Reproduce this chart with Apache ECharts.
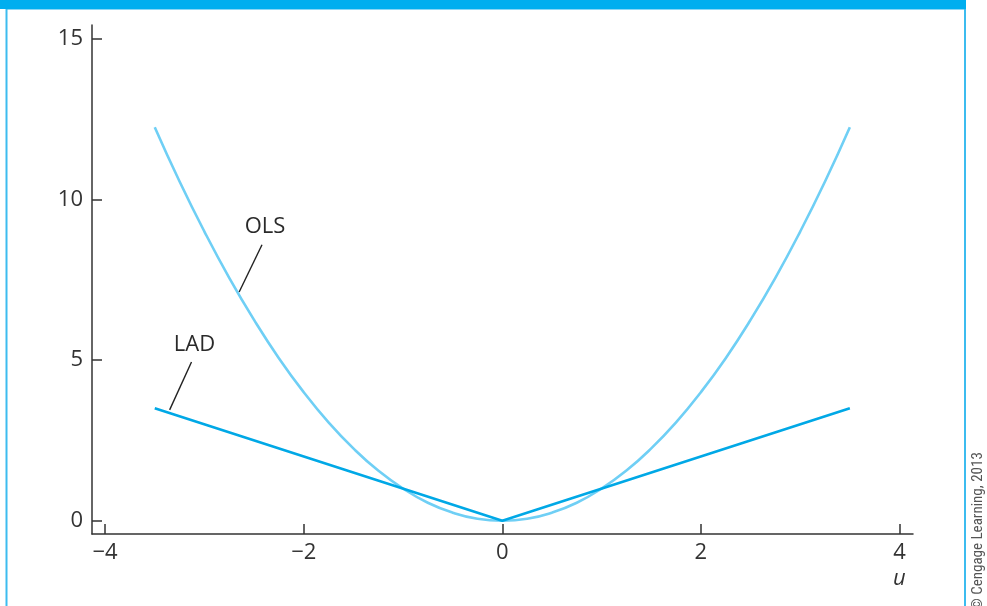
<!DOCTYPE html>
<html>
<head>
<meta charset="utf-8">
<script src="https://cdn.jsdelivr.net/npm/echarts@6/dist/echarts.min.js"></script>
<style>
html,body{margin:0;padding:0;background:#fff;}
#c{width:987px;height:606px;}
</style>
</head>
<body>
<div id="c"></div>
<script>
// ---- data ----
const uValues = [-3.5,-3.25,-3,-2.75,-2.5,-2.25,-2,-1.75,-1.5,-1.25,-1,-0.75,-0.5,-0.25,0,0.25,0.5,0.75,1,1.25,1.5,1.75,2,2.25,2.5,2.75,3,3.25,3.5];
const olsValues = [12.25,10.56,9,7.56,6.25,5.06,4,3.06,2.25,1.56,1,0.56,0.25,0.06,0,0.06,0.25,0.56,1,1.56,2.25,3.06,4,5.06,6.25,7.56,9,10.56,12.25];
const ladU = [-3.5, 0, 3.5];
const ladValues = [3.5, 0, 3.5];
const xTicks = [-4, -2, 0, 2, 4];
const yTicks = [0, 5, 10, 15];
const labelNames = ['OLS', 'LAD'];
const labelPoints = [[-2.39, 9.16], [-3.10, 5.48]];
const leaderLines = [[[-2.42, 8.59], [-2.65, 7.12]], [[-3.13, 4.94], [-3.35, 3.45]]];

const FONT = "'Open Sans','Noto Sans',sans-serif";
const AX = '#333333';
const minus = v => String(v).replace('-', '\u2212');

const chart = echarts.init(document.getElementById('c'), null, {renderer: 'canvas'});
chart.setOption({
  animation: false,
  backgroundColor: '#ffffff',
  grid: {left: 92, right: 74, top: 25, bottom: 72, containLabel: false},
  xAxis: {
    type: 'value', min: -4.132, max: 4.136,
    splitLine: {show: false},
    axisLine: {onZero: false, lineStyle: {color: AX, width: 1.5}},
    axisTick: {inside: true, length: 10, customValues: xTicks, lineStyle: {color: AX, width: 1.5}},
    axisLabel: {customValues: xTicks, formatter: minus, margin: 8, fontSize: 22, fontFamily: FONT, color: AX}
  },
  yAxis: {
    type: 'value', min: -0.414, max: 15.43,
    splitLine: {show: false},
    axisLine: {onZero: false, lineStyle: {color: AX, width: 1.5}},
    axisTick: {inside: true, length: 10, customValues: yTicks, lineStyle: {color: AX, width: 1.5}},
    axisLabel: {customValues: yTicks, formatter: minus, margin: 9, fontSize: 22, fontFamily: FONT, color: AX}
  },
  series: [
    {
      type: 'line', name: 'OLS', showSymbol: false, smooth: true,
      data: uValues.map((u, i) => [u, olsValues[i]]),
      lineStyle: {color: '#6fcff5', width: 2.6}, z: 2
    },
    {
      type: 'line', name: 'LAD', showSymbol: false,
      data: ladU.map((u, i) => [u, ladValues[i]]),
      lineStyle: {color: '#00a8e6', width: 2.6}, z: 3
    },
    {
      type: 'lines', coordinateSystem: 'cartesian2d', silent: true,
      data: leaderLines.map(c => ({coords: c})),
      lineStyle: {color: '#222', width: 1.4, opacity: 1}, z: 4
    },
    {
      type: 'scatter', symbolSize: 0, silent: true,
      itemStyle: {opacity: 1},
      data: labelPoints.map((p, i) => ({value: p, name: labelNames[i]})),
      label: {show: true, position: 'inside', formatter: p => p.name, fontSize: 22, fontFamily: FONT, color: '#2a2a2a', opacity: 1}
    }
  ],
  graphic: [
    {type: 'rect', shape: {x: 0, y: 0, width: 966, height: 9}, style: {fill: '#00aeef'}, z: 10},
    {type: 'rect', shape: {x: 6, y: 9, width: 960, height: 1}, style: {fill: '#8ad6f5'}, z: 10},
    {type: 'rect', shape: {x: 5.5, y: 9, width: 2, height: 600}, style: {fill: '#3cbcef'}, z: 10},
    {type: 'rect', shape: {x: 964, y: 9, width: 2, height: 600}, style: {fill: '#3cbcef'}, z: 10},
    {type: 'text', x: 893, y: 568, style: {text: 'u', fontSize: 22, fontStyle: 'italic', fontFamily: FONT, fill: '#333'}, z: 10},
    {type: 'text', x: 978, y: 610, rotation: Math.PI / 2,
     style: {text: '\u00a9 Cengage Learning, 2013', fontSize: 15, fontFamily: "'Liberation Sans Narrow','Roboto Condensed','DejaVu Sans Condensed',sans-serif", fill: '#555', align: 'left', verticalAlign: 'middle'}, z: 10}
  ]
});
</script>
</body>
</html>
